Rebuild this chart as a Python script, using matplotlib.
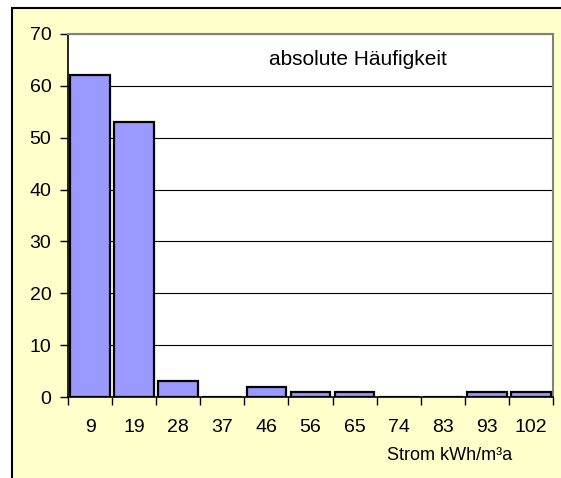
import matplotlib.pyplot as plt
from matplotlib.patches import Rectangle
import numpy as np

plt.rcParams['font.family'] = ['Liberation Sans', 'DejaVu Sans']

# Klassen (Strom kWh/m³a) und absolute Häufigkeiten
klassen = ['9', '19', '28', '37', '46', '56', '65', '74', '83', '93', '102']
haeufigkeit = [62, 53, 3, 0, 2, 1, 1, 0, 0, 1, 1]
y_ticks = [0, 10, 20, 30, 40, 50, 60, 70]

W, H = 561, 478
fig = plt.figure(figsize=(W / 100, H / 100), dpi=100, facecolor='white')

# gelber Diagrammbereich mit schwarzem Rahmen
fig.patches.append(Rectangle((12 / W, -0.1), 1.2, 1 - 8 / H + 0.1,
                             transform=fig.transFigure, facecolor='#FFFFCC',
                             edgecolor='black', linewidth=1.5, zorder=-10))

ax = fig.add_axes([68 / W, 1 - 397 / H, 485 / W, 363 / H])
ax.set_facecolor('white')

x = np.arange(len(klassen))
ax.bar(x, haeufigkeit, width=0.9, color='#9999FF', edgecolor='black',
       linewidth=1.6, zorder=3)

ax.set_xlim(-0.5, len(klassen) - 0.5)
ax.set_ylim(0, 70)
ax.set_yticks(y_ticks)
ax.yaxis.grid(True, color='black', linewidth=0.8, zorder=1)
ax.set_axisbelow(True)

ax.set_xticks(x)
ax.set_xticklabels(klassen)
ax.set_xticks(np.arange(len(klassen) + 1) - 0.5, minor=True)
ax.tick_params(axis='x', which='major', length=0, pad=16, labelsize=14)
ax.tick_params(axis='x', which='minor', length=6, width=1, direction='out')
ax.tick_params(axis='y', length=6, width=1, pad=6, labelsize=14)

for s in ['left', 'bottom']:
    ax.spines[s].set_color('black')
    ax.spines[s].set_linewidth(1.2)
for s in ['top', 'right']:
    ax.spines[s].set_color('#808080')
    ax.spines[s].set_linewidth(1.5)

ax.text(0.598, 0.93, 'absolute Häufigkeit', transform=ax.transAxes,
        ha='center', va='center', fontsize=15)
fig.text(450 / W, 1 - 455 / H, 'Strom kWh/m³a', ha='center', va='center',
         fontsize=13)

fig.savefig('out.png', dpi=100, facecolor=fig.get_facecolor())
